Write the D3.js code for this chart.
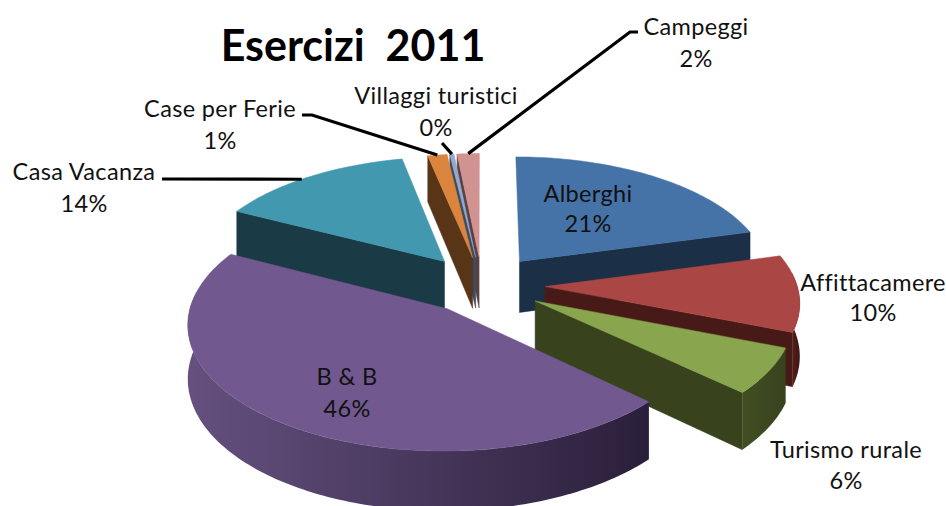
<!DOCTYPE html>
<html><head><meta charset="utf-8">
<style>html,body{margin:0;padding:0;background:#fff}svg{display:block}text{font-family:Lato,"Open Sans",sans-serif;fill:#111}</style>
<script src="https://cdn.jsdelivr.net/npm/d3@7/dist/d3.min.js"></script>
</head><body><svg id="c" width="946" height="506"></svg>
<script>
const categories=["Alberghi","Affittacamere","Turismo rurale","B & B","Casa Vacanza","Case per Ferie","Villaggi turistici","Campeggi"];
const values=[20.8,10.1,6.0,45.6,14.2,1.4,0.3,1.6];
const explosions=[0.25,0.25,0.245,0.235,0.25,0.235,0.235,0.235];
const topColors=["#4572a7","#aa4643","#89a54e","#71588f","#4198af","#db843d","#93a9cf","#d19392"];
const wallColors=["#1b2f47","#481a17","#38431e","#2b2038","#1a3a45","#593518","#3d4a60","#5a4040"];
const rimLeft=["#1b2f47","#5a1f1c","#414e22","#65507f","#1a3a45","#593518","#3d4a60","#5a4040"];
const rimRight=["#1b2f47","#3c1513","#38431e","#2a1f3a","#1a3a45","#593518","#3d4a60","#5a4040"];
const labelLines=[[588,202,232],[873,291,321],[846,458,489],[347,385,417],[84,180,212],[220,117,149],[436,104,136],[696,35,67]];
const leaderElbows=[null,null,null,null,[[162,179]],[[302,115],[312,115]],[[442,143]],[[638,32],[630,32]]];
const leaderAt=[.5,.5,.5,.5,.455,.5,.5,.5];

const cx=482,cy=285,R=252,t=0.48,k=0.11,depth=52;
const svg=d3.select("#c"),defs=svg.append("defs");
const project=(u,v,z=0)=>{const p=1/(1+k*v/R);return [cx+u*p,cy-t*v*p+z*p];};
const pie=d3.pie().sort(null).value(d=>d)(values);
const line=d3.line();
const TAU=2*Math.PI;
const slices=pie.map((a,i)=>{
  const mid=(a.startAngle+a.endAngle)/2, e=explosions[i]*R;
  const o=[e*Math.sin(mid),e*Math.cos(mid)];
  const rim=(ang,z=0)=>project(o[0]+R*Math.sin(ang),o[1]+R*Math.cos(ang),z);
  const apex=(z=0)=>project(o[0],o[1],z);
  return {i,a,mid,o,rim,apex};
});
const arcAngles=(s,e)=>{const n=Math.max(2,Math.ceil((e-s)/0.02));return d3.range(n+1).map(j=>s+(e-s)*j/n);};
const order=slices.slice().sort((x,y)=>y.o[1]-x.o[1]);
order.forEach(s=>{
  const {i,a,rim,apex}=s,g=svg.append("g");
  const wall=ang=>g.append("path").attr("fill",wallColors[i]).attr("stroke",wallColors[i]).attr("stroke-width",.5)
     .attr("d",line([apex(),rim(ang),rim(ang,depth),apex(depth)])+"Z");
  if(Math.sin(a.startAngle)<-1e-6)wall(a.startAngle);
  if(Math.sin(a.endAngle)>1e-6&&a.endAngle<TAU-1e-3)wall(a.endAngle);
  const s0=Math.max(a.startAngle,Math.PI/2-0.12),e0=Math.min(a.endAngle,3*Math.PI/2+0.12);
  if(e0>s0){
    const gid="rim"+i;
    const gr=defs.append("linearGradient").attr("id",gid);
    gr.append("stop").attr("offset",0).attr("stop-color",rimLeft[i]);
    gr.append("stop").attr("offset",1).attr("stop-color",rimRight[i]);
    const ang=arcAngles(s0,e0);
    const pts=ang.map(x=>rim(x)).concat(ang.slice().reverse().map(x=>rim(x,depth)));
    g.append("path").attr("fill",`url(#${gid})`).attr("d",line(pts)+"Z");
  }
  const topPts=[apex()].concat(arcAngles(a.startAngle,a.endAngle).map(x=>rim(x)));
  g.append("path").attr("fill",topColors[i]).attr("stroke",topColors[i]).attr("stroke-width",.5).attr("d",line(topPts)+"Z");
});
slices.forEach(s=>{
  const el=leaderElbows[s.i]; if(!el)return;
  const ang=s.a.startAngle+(s.a.endAngle-s.a.startAngle)*leaderAt[s.i];
  svg.append("path").attr("fill","none").attr("stroke","#000").attr("stroke-width",3.2)
     .attr("d",line(el.concat([s.rim(ang)])));
});
const pct=d3.format(".0%");
categories.forEach((c,i)=>{
  const [x,y1,y2]=labelLines[i];
  [[y1,c],[y2,pct(values[i]/100)]].forEach(([y,txt])=>
    svg.append("text").attr("x",x).attr("y",y).attr("text-anchor","middle").attr("font-size",23.5).attr("letter-spacing",.35).text(txt));
});
svg.append("text").attr("x",353).attr("y",61).attr("text-anchor","middle").attr("font-size",43).attr("font-weight",700)
   .style("white-space","pre").style("fill","#000").text("Esercizi  2011");
</script></body></html>
